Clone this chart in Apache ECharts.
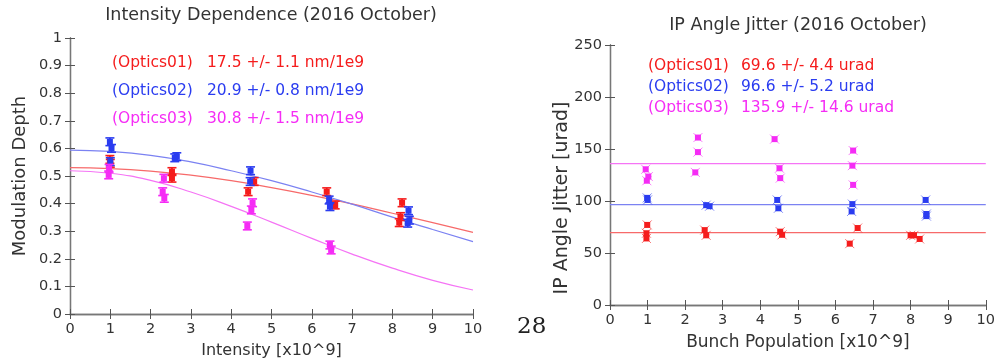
<!DOCTYPE html>
<html><head><meta charset="utf-8">
<script src="https://cdn.jsdelivr.net/npm/echarts@6/dist/echarts.min.js"></script>
<style>html,body{margin:0;padding:0;background:#fff}#c{width:998px;height:364px}</style>
</head><body><div id="c"></div>
<script>
// ---- Left chart: Intensity dependence (x, modulation depth) ----
const leftOptics01 = [[0.99,0.560],[1.00,0.546],[2.53,0.516],[2.53,0.492],[4.57,0.480],[4.42,0.443],[6.37,0.443],[6.58,0.395],[8.24,0.403],[8.17,0.331],[8.20,0.353]];
const leftOptics02 = [[0.99,0.624],[1.03,0.600],[1.00,0.552],[2.65,0.570],[2.60,0.566],[4.48,0.519],[4.47,0.480],[6.43,0.413],[6.45,0.389],[8.40,0.374],[8.38,0.329],[8.42,0.340]];
const leftOptics03 = [[0.97,0.528],[0.96,0.504],[2.33,0.492],[2.30,0.443],[2.34,0.419],[4.53,0.403],[4.50,0.377],[4.40,0.319],[6.45,0.250],[6.48,0.232]];
const leftErr = 0.014;
const fitX = [0,1,2,3,4,5,6,7,8,9,10];
const fit01 = [0.530,0.527,0.518,0.503,0.483,0.458,0.430,0.399,0.365,0.331,0.296];
const fit02 = [0.594,0.589,0.575,0.551,0.519,0.483,0.442,0.398,0.351,0.306,0.262];
const fit03 = [0.519,0.510,0.484,0.442,0.390,0.333,0.274,0.217,0.166,0.122,0.087];
const leftLabels = ['(Optics01)','(Optics02)','(Optics03)'];
const leftValues = ['17.5 +/- 1.1 nm/1e9','20.9 +/- 0.8 nm/1e9','30.8 +/- 1.5 nm/1e9'];

// ---- Right chart: IP angle jitter (x, urad) ----
const rightOptics01 = [[0.99,77],[0.97,69],[0.97,64],[2.52,72],[2.56,67],[4.53,70.5],[4.58,67.5],[6.59,74],[6.38,59],[8.00,67],[8.09,67],[8.24,63.5]];
const rightOptics02 = [[0.99,103],[1.00,101],[2.56,96],[2.65,95],[4.45,101],[4.48,93],[6.45,97],[6.43,90],[8.40,101],[8.42,87.5],[8.42,85.5]];
const rightOptics03 = [[0.95,130.5],[1.02,123.5],[0.98,119.5],[2.34,161],[2.34,147],[2.27,127.5],[4.38,159.5],[4.51,131.5],[4.53,122],[6.47,148.5],[6.45,134],[6.47,115.5]];
const rightFit = [69.6, 96.6, 135.9];
const rightLabels = ['(Optics01)','(Optics02)','(Optics03)'];
const rightValues = ['69.6 +/- 4.4 urad','96.6 +/- 5.2 urad','135.9 +/- 14.6 urad'];

const colors = ['#f51c1c','#2a3cf0','#f52cf5'];
const lineColors = ['#f76a6a','#7b82f2','#f574f5'];
const FONT = 'DejaVu Sans';

function errSeries(data, color, gi, err, mode) {
  return {
    type:'custom', xAxisIndex: gi*2, yAxisIndex: gi*2, z:5,
    data: data.map(d => [d[0], d[1], err]),
    renderItem: function(params, api) {
      const x = api.value(0), y = api.value(1), e = api.value(2);
      const p = api.coord([x,y]);
      const ch = [];
      if (mode === 'bar') {
        const hi = api.coord([x,y+e])[1], lo = api.coord([x,y-e])[1];
        const cap = 4.5;
        ch.push({type:'line',shape:{x1:p[0],y1:hi,x2:p[0],y2:lo},style:{stroke:color,lineWidth:1.8}});
        ch.push({type:'line',shape:{x1:p[0]-cap,y1:hi,x2:p[0]+cap,y2:hi},style:{stroke:color,lineWidth:1.6}});
        ch.push({type:'line',shape:{x1:p[0]-cap,y1:lo,x2:p[0]+cap,y2:lo},style:{stroke:color,lineWidth:1.6}});
      } else {
        const a = 4.5;
        ch.push({type:'line',shape:{x1:p[0]-a,y1:p[1]-a,x2:p[0]+a,y2:p[1]+a},style:{stroke:color,lineWidth:1,opacity:0.6}});
        ch.push({type:'line',shape:{x1:p[0]-a,y1:p[1]+a,x2:p[0]+a,y2:p[1]-a},style:{stroke:color,lineWidth:1,opacity:0.6}});
      }
      ch.push({type:'rect',shape:{x:p[0]-3,y:p[1]-3,width:6,height:6},style:{fill:color}});
      return {type:'group',children:ch};
    }
  };
}

function axisCommon() {
  return {
    axisLine:{show:true,lineStyle:{color:'#777',width:1.3}},
    axisTick:{show:true,inside:true,length:5,lineStyle:{color:'#555'}},
    splitLine:{show:false},
    axisLabel:{color:'#333',fontFamily:FONT,fontSize:14.5}
  };
}

const chart = echarts.init(document.getElementById('c'));
const leftGrid = {left:70, right:525, top:38, bottom:50};
const rightGrid = {left:610, right:11, top:45, bottom:59};

const xAxes = [], yAxes = [];
xAxes.push(Object.assign(axisCommon(), {type:'value', gridIndex:0, min:0, max:10, interval:1, position:'bottom',
  name:'Intensity [x10^9]', nameLocation:'middle', nameGap:29,
  nameTextStyle:{color:'#333',fontFamily:FONT,fontSize:16}}));
xAxes.push(Object.assign(axisCommon(), {type:'value', gridIndex:0, min:0, max:10, interval:1, position:'top', axisLabel:{show:false}}));
yAxes.push(Object.assign(axisCommon(), {type:'value', gridIndex:0, min:0, max:1, interval:0.1, position:'left'}));
yAxes.push(Object.assign(axisCommon(), {type:'value', gridIndex:0, min:0, max:1, interval:0.1, position:'right', axisLabel:{show:false}}));
xAxes.push(Object.assign(axisCommon(), {type:'value', gridIndex:1, min:0, max:10, interval:1, position:'bottom',
  name:'Bunch Population [x10^9]', nameLocation:'middle', nameGap:29,
  nameTextStyle:{color:'#333',fontFamily:FONT,fontSize:17}}));
xAxes.push(Object.assign(axisCommon(), {type:'value', gridIndex:1, min:0, max:10, interval:1, position:'top', axisLabel:{show:false}}));
yAxes.push(Object.assign(axisCommon(), {type:'value', gridIndex:1, min:0, max:250, interval:50, position:'left'}));
yAxes.push(Object.assign(axisCommon(), {type:'value', gridIndex:1, min:0, max:250, interval:50, position:'right', axisLabel:{show:false}}));

const series = [];
[fit01, fit02, fit03].forEach((f, i) => {
  series.push({type:'line', xAxisIndex:0, yAxisIndex:0, smooth:true, symbol:'none',
    data: fitX.map((x, k) => [x, f[k]]), lineStyle:{color:lineColors[i], width:1.2}, z:3});
});
[leftOptics01, leftOptics02, leftOptics03].forEach((d, i) => series.push(errSeries(d, colors[i], 0, leftErr, 'bar')));
rightFit.forEach((v, i) => {
  series.push({type:'line', xAxisIndex:2, yAxisIndex:2, symbol:'none',
    data: [[0, v],[10, v]], lineStyle:{color:lineColors[i], width:1.2}, z:3});
});
[rightOptics01, rightOptics02, rightOptics03].forEach((d, i) => series.push(errSeries(d, colors[i], 1, 0, 'x')));

const texts = [];
leftLabels.forEach((t, i) => {
  texts.push({type:'text', left:112, top:55 + i*28, style:{text:t, fill:colors[i], font:'15.5px "'+FONT+'"'}});
  texts.push({type:'text', left:207, top:55 + i*28, style:{text:leftValues[i], fill:colors[i], font:'15.5px "'+FONT+'"'}});
});
rightLabels.forEach((t, i) => {
  texts.push({type:'text', left:648, top:58 + i*21, style:{text:t, fill:colors[i], font:'15.5px "'+FONT+'"'}});
  texts.push({type:'text', left:741, top:58 + i*21, style:{text:rightValues[i], fill:colors[i], font:'15.5px "'+FONT+'"'}});
});
// titles
texts.push({type:'text', x:271, y:15, style:{text:'Intensity Dependence (2016 October)', fill:'#333',
  font:'17.5px "'+FONT+'"', align:'center', verticalAlign:'middle'}});
texts.push({type:'text', x:798, y:25, style:{text:'IP Angle Jitter (2016 October)', fill:'#333',
  font:'17.5px "'+FONT+'"', align:'center', verticalAlign:'middle'}});
// y axis names
texts.push({type:'text', x:20, y:176, rotation:Math.PI/2, style:{text:'Modulation Depth', fill:'#333',
  font:'18px "'+FONT+'"', align:'center', verticalAlign:'middle'}});
texts.push({type:'text', x:562, y:198, rotation:Math.PI/2, style:{text:'IP Angle Jitter [urad]', fill:'#333',
  font:'19px "'+FONT+'"', align:'center', verticalAlign:'middle'}});
texts.push({type:'text', left:517, top:316, style:{text:'28', fill:'#222', font:'23px "DejaVu Serif"'}});

chart.setOption({
  animation:false,
  grid:[leftGrid, rightGrid],
  xAxis: xAxes, yAxis: yAxes,
  series: series,
  graphic: texts
});
</script></body></html>
